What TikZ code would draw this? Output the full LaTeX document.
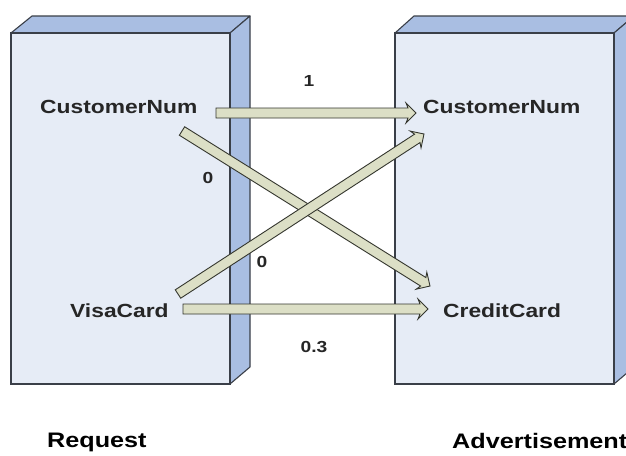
\documentclass[tikz,border=0pt]{standalone}
\usepackage{fontspec}
\setmainfont{Liberation Sans}
\newfontfamily\labfont[FakeStretch=1.2]{Liberation Sans Bold}
\usetikzlibrary{calc}
\definecolor{facefront}{HTML}{E6ECF6}
\definecolor{faceside}{HTML}{A9BEE2}
\definecolor{edgecol}{HTML}{3A3F48}
\definecolor{shaftfill}{HTML}{DCDFC6}
\definecolor{shaftedge}{HTML}{34362E}
\tikzset{
  front/.style={fill=facefront, draw=edgecol, line width=1.1pt},
  sideface/.style={fill=faceside, draw=edgecol, line width=1.1pt, line join=round},
  field/.style={font=\labfont\fontsize{19}{21}\selectfont, text=black!85, inner sep=0pt, anchor=west},
  weight/.style={font=\labfont\fontsize{16}{18}\selectfont, text=black!85, inner sep=0pt},
  title/.style={font=\labfont\fontsize{21}{24}\selectfont, text=black, inner sep=0pt, anchor=west},
  fat/.style={fill=shaftfill, draw=shaftedge, line width=0.9pt, line join=miter},
}
% broad shaft with a small flared head, from #1 to #2
\newcommand\fatarrow[2]{%
  \draw[fat] let \p1=(#1), \p2=(#2),
    \n1={atan2(\y2-\y1,\x2-\x1)}, \n2={veclen(\x2-\x1,\y2-\y1)} in
    [shift={(\p1)}, rotate=\n1]
    (0pt,-5pt) -- (\n2-8pt,-5pt) -- (\n2-10pt,-10pt) -- (\n2,0pt)
    -- (\n2-10pt,10pt) -- (\n2-8pt,5pt) -- (0pt,5pt) -- cycle;}
\begin{document}
\begin{tikzpicture}[x=1pt, y=-1pt]
\useasboundingbox (0,0) rectangle (626,455);
\fill[white] (0,0) rectangle (626,455);
% Request block
\draw[sideface] (11,33) -- (32,16) -- (250,16) -- (230,33) -- cycle;
\draw[sideface] (230,33) -- (250,16) -- (250,367) -- (230,384) -- cycle;
\draw[front] (11,33) rectangle (230,384);
% Advertisement block
\draw[sideface] (395,33) -- (414,16) -- (634,16) -- (614,33) -- cycle;
\draw[sideface] (614,33) -- (634,16) -- (634,367) -- (614,384) -- cycle;
\draw[front] (395,33) rectangle (614,384);
% fields
\node[field] (reqcust) at (40,107) {CustomerNum};
\node[field] (reqvisa) at (70,311) {VisaCard};
\node[field] (adcust) at (423,107) {CustomerNum};
\node[field] (adcredit) at (443,311) {CreditCard};
% arrow end points
\coordinate (s1) at (216,113);
\coordinate (e1) at (416,113);
\coordinate (s2) at (182,131);
\coordinate (e2) at (430,286);
\coordinate (s3) at (178,294);
\coordinate (e3) at (424,134);
\coordinate (s4) at (183,309);
\coordinate (e4) at (428,309);
\fatarrow{s2}{e2}
\fatarrow{s3}{e3}
\fatarrow{s1}{e1}
\fatarrow{s4}{e4}
% weights
\node[weight] (w1) at (309,81) {1};
\node[weight] (w2) at (208,178) {0};
\node[weight] (w3) at (262,262) {0};
\node[weight] (w4) at (314,347) {0.3};
% titles
\node[title] (req) at (47,442) {Request};
\node[title] (adv) at (452,441) {Advertisement};
\end{tikzpicture}
\end{document}
